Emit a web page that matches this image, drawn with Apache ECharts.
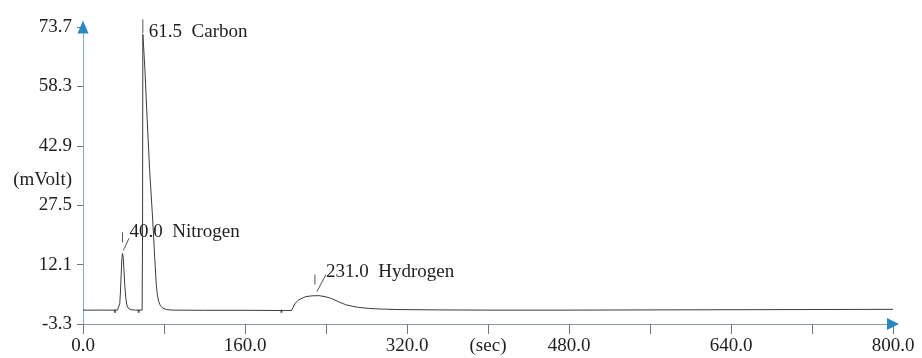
<!DOCTYPE html>
<html>
<head>
<meta charset="utf-8">
<script src="https://cdn.jsdelivr.net/npm/echarts/dist/echarts.min.js"></script>
<style>
  html, body { margin: 0; padding: 0; background: #ffffff; }
  #chart { width: 922px; height: 358px; }
</style>
</head>
<body>
<div id="chart"></div>
<script>
// ---- data ----
const times = [0, 20, 34, 35.5, 36.3, 37, 37.7, 38.4, 39.0, 39.7, 40.4, 41.2, 42.2, 43.4, 45, 47.5, 52,
  58.4, 58.8, 59.1, 60.0, 61.2, 63.4, 65.8, 68.8, 70.8, 72.4, 73.6, 74.7, 76.5, 79, 82.5, 88,
  120, 160, 200, 205.9, 207.5, 209.3, 213.3, 220.1, 226, 233, 239, 245.7, 252, 259.5, 266, 272.3, 282, 292,
  311, 350, 400, 480, 560, 640, 720, 800];
const signal = [0.3, 0.3, 0.3, 0.5, 2.0, 5.0, 9.5, 13.5, 15.0, 14.0, 11.0, 7.0, 3.6, 1.5, 0.7, 0.4, 0.3,
  0.3, 20, 71.8, 68.0, 62.4, 49.6, 36.7, 23.9, 14.0, 6.7, 4.0, 2.6, 1.4, 0.8, 0.45, 0.3,
  0.25, 0.25, 0.2, 0.2, 1.0, 2.0, 3.0, 3.8, 4.0, 4.05, 3.8, 3.3, 2.5, 1.7, 1.3, 1.0, 0.75, 0.6,
  0.45, 0.35, 0.3, 0.3, 0.35, 0.4, 0.45, 0.5];

const peakText = ['40.0  Nitrogen', '61.5  Carbon', '231.0  Hydrogen'];
const peakAt = [39.0, 59.1, 233];
const peakTop = [15.0, 71.8, 4.05];

const markerTimes = [31.5, 55, 196];
const markerValues = [0, 0, 0];

const xTickInterval = 80;
const xLabelValues = [0, 160, 320, 480, 640, 800];
const xUnitLabel = '(sec)';
const xUnitValue = 400;
const yTicks = [-3.3, 12.1, 27.5, 42.9, 58.3, 73.7];
const yUnitLabel = '(mVolt)';
const yUnitValue = 34.0;

// ---- build ----
const lineData = times.map((t, i) => [t, signal[i]]);
const markerData = markerTimes.map((t, i) => [t, markerValues[i]]);
const peakData = peakAt.map((t, i) => [t, peakTop[i], i]);

const FONT = '"Liberation Serif", "Times New Roman", serif';
const TXT = '#1e1e1e';

// annotation leader offsets (pixels relative to the peak tip)
const annoLayout = [
  { tick: [0, -21, -11], slant: [0.8, -3, 6.5, -15], text: [7, -21] },
  { tick: [0, -15, -1], slant: null, text: [6, -2] },
  { tick: [-4, -21, -11], slant: [-2, -4, 7, -21], text: [7, -24] }
];

function renderPeak(params, api) {
  const i = api.value(2);
  const p = api.coord([api.value(0), api.value(1)]);
  const s = annoLayout[i];
  const ls = { stroke: '#555', lineWidth: 1 };
  const children = [];
  children.push({ type: 'line', shape: { x1: p[0] + s.tick[0], y1: p[1] + s.tick[1], x2: p[0] + s.tick[0], y2: p[1] + s.tick[2] }, style: ls });
  if (s.slant) {
    children.push({ type: 'line', shape: { x1: p[0] + s.slant[0], y1: p[1] + s.slant[1], x2: p[0] + s.slant[2], y2: p[1] + s.slant[3] }, style: ls });
  }
  children.push({
    type: 'text', x: p[0] + s.text[0], y: p[1] + s.text[1],
    style: { text: peakText[i], fill: TXT, font: '19px ' + FONT, verticalAlign: 'middle', align: 'left' }
  });
  return { type: 'group', children };
}

const chart = echarts.init(document.getElementById('chart'), null, { renderer: 'canvas' });
chart.setOption({
  backgroundColor: '#ffffff',
  animation: false,
  grid: { left: 83, right: 29, top: 27, bottom: 34, containLabel: false },
  xAxis: {
    type: 'value', min: 0, max: 800, interval: xTickInterval,
    axisLine: { show: true, onZero: false, lineStyle: { color: '#8d9aa3', width: 1 } },
    axisTick: { show: true, inside: false, length: 10, lineStyle: { color: '#777' } },
    axisLabel: {
      show: true, margin: 13, fontFamily: FONT, fontSize: 19, color: TXT,
      showMinLabel: true, showMaxLabel: true,
      formatter: v => (Math.abs(v - xUnitValue) < 1e-6 ? xUnitLabel :
        (xLabelValues.some(x => Math.abs(x - v) < 1e-6) ? v.toFixed(1) : ''))
    },
    splitLine: { show: false }
  },
  yAxis: {
    type: 'value', min: -3.3, max: 73.7,
    axisLine: { show: true, onZero: false, lineStyle: { color: '#86aac0', width: 1 } },
    axisTick: { show: true, inside: false, length: 6, customValues: yTicks, lineStyle: { color: '#777' } },
    axisLabel: {
      show: true, margin: 11, fontFamily: FONT, fontSize: 19, color: TXT,
      customValues: yTicks.concat([yUnitValue]),
      formatter: v => (Math.abs(v - yUnitValue) < 1e-6 ? yUnitLabel : v.toFixed(1))
    },
    splitLine: { show: false }
  },
  series: [
    {
      type: 'line', data: lineData, showSymbol: false, smooth: false, clip: false,
      lineStyle: { color: '#3c3c3c', width: 1 },
      silent: true,
      markPoint: {
        silent: true,
        label: { show: false },
        itemStyle: { color: '#2a88c0' },
        data: [
          { coord: [0, 73.7], symbol: 'triangle', symbolSize: [11, 13] },
          { coord: [800, -3.3], symbol: 'triangle', symbolRotate: -90, symbolSize: [12, 12] }
        ]
      }
    },
    {
      type: 'scatter', data: markerData, symbol: 'rect', symbolSize: [2, 3],
      itemStyle: { color: '#333' }, silent: true
    },
    {
      type: 'custom', data: peakData, renderItem: renderPeak, clip: false, silent: true,
      encode: { x: 0, y: 1 }, z: 5
    }
  ]
});
</script>
</body>
</html>
